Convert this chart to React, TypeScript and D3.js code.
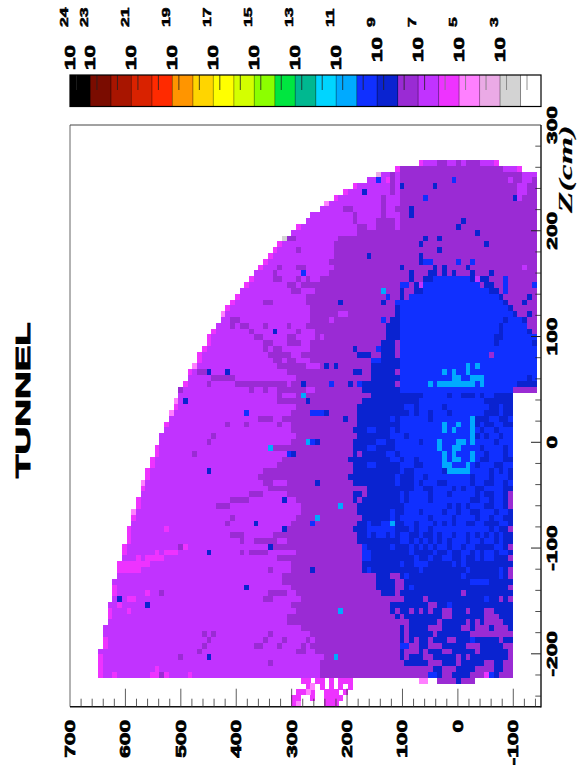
import React, { useEffect, useRef } from "react";
import * as d3 from "d3";

// ---- colour scale (legend, from 10^24 down) ----
const bandColors = ["#000000","#7a0c00","#a81500","#d92200","#ff2a00","#ff9500","#ffd500","#ffff00","#d4ff00","#8cff00","#00e640","#00b890","#00d5ff","#00aaff","#1030ff","#0a23d0","#9a2bd4","#c133ff","#ee33ff","#ff80ff","#ebaae6","#d3d3d3","#ffffff"];
const levelChars: Record<string, number> = { A: 13, B: 14, K: 15, D: 16, L: 17, M: 18, P: 19, R: 20, G: 21 };
const legendExponents = [[0,"24"],[1,"23"],[3,"21"],[5,"19"],[7,"17"],[9,"15"],[11,"13"],[13,"11"],[15,"9"],[17,"7"],[19,"5"],[21,"3"]] as [number,string][];

// ---- axes ----
const rTicks = [700,600,500,400,300,200,100,0,-100];
const zTicks = [300,200,100,0,-100,-200];
const binR = 8.5, binZ = 5.5, firstRow = 6;

// ---- map, one value per Z row 6..94, in R bins ----
const outerLeft = [74,69,65,63,60,58,56,54,53,51,50,48,47,45,44,43,42,41,40,39,38,37,36,35,34,33,32,32,31,30,29,29,28,27,27,26,25,25,24,23,23,22,22,21,21,20,20,19,19,18,18,17,17,16,16,15,15,15,14,14,13,13,13,12,12,12,11,11,11,10,10,10,9,9,9,9,8,8,8,8,7,7,7,7,6,6,6,6,6];
const rightEnd = [90,95,98,98,98,98,98,98,98,98,98,98,98,98,98,98,98,98,98,98,98,98,98,98,98,98,98,98,98,98,98,98,98,98,98,98,98,98,98,98,93,93,93,93,93,93,93,93,93,93,93,93,93,93,93,93,93,93,93,93,93,93,93,93,93,93,93,93,93,93,93,93,93,93,93,93,93,93,93,93,93,93,93,93,93,93,93,93,93];
const edgeLevel = "MMRLMMMPLLLMLGMMMMMLMMLMMMPLLMMMMMMPMLMDLPMPLMLLLMMMMMMPMLMMPMLMMMMMLPMLLMMLLMMLLLMMLMMMM".split("");
const darkStart = [70,70,70,70,70,70,70,70,70,70,65,65,61,57,56,56,56,55,56,55,53,52,52,50,50,51,51,51,50,50,50,49,49,49,49,49,48,48,47,47,48,48,48,47,47,47,47,48,47,43,46,45,44,41,40,46,42,46,48,49,49,48,47,46,43,46,43,48,44,47,47,45,45,47,48,49,47,48,46,46,49,51,52,51,53,54,53,53,53];
const navyStart = [999,999,999,999,999,999,999,999,999,999,999,999,999,999,999,999,999,999,999,999,999,999,999,999,999,69,69,68,67,67,67,66,66,66,64,64,64,63,62,62,64,62,61,61,61,61,60,61,60,60,60,59,60,60,59,60,62,60,60,61,61,62,61,60,61,61,62,62,62,62,62,65,65,65,66,68,68,68,69,69,70,70,70,70,70,70,71,76,76];

// dome of blue, rows 26..45
const domeRows = [26,27,28,29,30,31,32,33,34,35,36,37,38,39,40,41,42,43,44,45];
const domeStart = [77,75,75,72,71,70,70,70,70,70,70,70,70,70,70,70,70,70,70,70];
const domeEnd = [84,86,88,90,91,92,93,95,96,97,98,98,98,98,98,98,98,98,94,93];

// lower block, rows 46..94, R bins 60..93
const blockCells = [
"...............BBBBB.BB...B.BB.....",
"..............BBBBBBBBBBBBBB......",
"...........BB.BBBBB.BBBBBBBBB..B..",
"............B.BB.BBB.BBBBBBB...B..",
"........B.BBBBBB.BBBBBBBBB...BB..B",
"..........BBBBBBBBBBBBBBBB.B..BB..",
"...BB...B.BBBBBBBBBBBBBBBBB.BB.BBB",
"........BBB.BBBBBBBBBBBBBB.B.BB.BB",
".....BB..BBBBB.BBBBBBBBBBBBBBB.BBB",
"...BB....BBBBBBBBBBBBBBBBBB.BBBB.B",
".D.....BB.BBBBBBBBBBBBBBBBBB.BBB.B",
"........BB.BB.BBBBBBBBBBBBB..BBB..",
"...BB.....BBB..BBBBBBBBBBB.BBB..BB",
"..........B..BBBBBB.BBBBBBBBB.B.B.",
".........B...BB.BBBBBBBBB.BBB.BBB.",
".........B...B.BBB..BBBBB.BB..BB.B",
"..D..........BB..BBBB.B.BB..BBBB..",
"..D.......B.BBBB.BBB.BBBBB.B..BB.D",
".D........B.BBBB.BBBBBBBB..BB.BB.D",
"...........BBBBBBBBB.B.B.BBB..BB.D",
"........B..BBB.BBBB.BB.BB..BBB.BB.",
"........B.BBBBBB.BBBB.BBBB.BB.BB..",
"...B..BB...BB.BBB.B.B.BB..BB...BB.",
"...BBBBBB...B.BB.BBBBBBBBBBBB.B..D",
"...B.BB.B.BB..B..B.BB.BB.B.B.B.B..",
"..........BB.B.B.B.B.BBB.BB.BB.B..",
"..B.....B...B.B.B.BB.BB.BB....BB.D",
"..BB........B....B..B..BB.B.BB.BB.",
"..BB.........B..B..BB..B..B.BB...D",
"..........B..BBB.....B.B..........",
"...B..........B.........B......B.D",
"........DD.B...........B.......B.D",
".........DD..............BBBB.....",
".........DD.B....................D",
".........D.............D.........",
"........DDD....D............B..D.D",
"................DD..B.............D",
".........D..D.D.D..DD...D...DD....",
"..........D........DD.......DDD...",
".........DDD......D.....D.D.DDDD..",
"...........D....DDD....DD.DDD.DDD.D",
"...........D.....D.......DDDDDDDDD",
"...........D.D..D...DD...B.....D..",
"..........BBDD..DDD.....DDD.....DDD",
"...........DDD.D...DD.....D......DD",
"...........D...DD.....D.D........D.",
"...DDDDDDDD.....DDD...D.....DD..DDD",
"...........DDDDDD..DDD....DDDD..DD..",
"..........DDDDDDBB.DD.KK.DDD.B.DDDD",
].map(s => s.slice(0, 34));

// single cells: [row, first bin, last bin]
const purpleCells = [[6,78,79],[6,82,82],[6,84,86],[8,68,68],[9,68,68],[10,68,68],[11,68,68],[12,66,66],[13,66,66],[14,66,66],[15,66,66],[14,69,69],[14,58,59],[15,60,60],[16,60,60],[17,61,62],[18,61,62],[19,46,47],[21,48,48],[24,44,44],[24,48,49],[24,49,49],[25,43,43],[26,43,44],[26,48,48],[26,50,50],[27,46,47],[27,49,51],[28,47,48],[29,50,51],[30,41,42],[33,34,35],[34,34,34],[34,36,37],[34,41,41],[34,46,46],[35,38,38],[35,48,48],[36,39,40],[36,46,47],[37,41,42],[37,46,48],[38,41,41],[38,43,44],[39,42,46],[40,43,44],[40,46,47],[41,44,48],[42,27,28],[42,46,47],[43,30,34],[44,29,29],[44,35,45],[45,23,23],[45,38,38],[45,41,41],[45,44,46],[46,44,44],[47,44,47],[50,40,42],[50,45,46],[51,33,33],[51,37,37],[51,44,44],[53,30,30],[54,29,29],[56,26,26],[61,41,42],[63,38,40],[64,34,37],[65,31,33],[67,34,34],[68,33,33],[70,34,36],[71,36,36],[71,39,43],[72,23,23],[73,36,36],[73,38,41],[76,42,42],[80,19,19],[80,42,45],[81,41,42],[87,28,28],[87,30,30],[87,42,42],[88,29,29],[88,41,41],[88,45,45],[88,50,50],[89,28,28],[89,39,40],[89,44,44],[89,49,49],[90,27,27],[90,48,49],[90,52,52],[91,23,23],[92,42,42],[45,94,98],[94,19,19],[37,69,69],[38,69,69],[39,69,69],[39,89,89],[42,69,69],[43,63,63],[44,69,69],[46,63,63]];
const navyCells = [[11,62,62],[10,70,70],[10,77,77],[12,94,94],[14,72,72],[15,72,72],[16,83,83],[17,82,82],[18,86,86],[19,75,75],[19,78,78],[20,74,74],[20,88,88],[21,78,78],[22,63,63],[22,74,74],[23,74,74],[24,70,70],[24,77,77],[24,79,79],[24,84,84],[25,72,72],[25,76,77],[25,79,79],[25,81,81],[25,85,85],[25,89,89],[26,72,72],[26,75,76],[26,85,85],[26,87,88],[27,73,73],[27,88,89],[28,70,70],[28,73,74],[28,89,90],[29,70,70],[29,91,91],[29,97,97],[30,57,57],[30,66,66],[30,92,92],[30,96,96],[31,93,93],[32,94,94],[32,97,97],[33,92,92],[33,96,96],[34,91,91],[35,91,91],[35,97,97],[36,90,91],[37,90,90],[37,98,98],[38,60,60],[39,61,63],[41,54,54],[41,56,56],[42,60,61],[43,97,97],[44,49,49],[44,59,59],[44,95,98],[47,50,50],[47,24,24],[42,29,29],[42,33,33],[44,49,49],[35,43,43],[49,54,54],[50,58,58],[54,52,52],[56,47,47],[59,29,29],[61,52,52],[64,45,45],[68,39,39],[69,45,45],[72,42,42],[73,29,29],[76,51,51],[79,37,37],[81,10,10],[82,16,16],[91,29,29]];
const blueCells = [[9,65,65],[9,81,81],[12,75,75],[23,75,76],[23,82,82],[23,85,85],[25,49,49],[25,49,49],[26,92,92],[27,70,71],[27,92,92],[27,98,98],[28,92,92],[29,67,67],[30,69,70],[33,66,66],[38,65,65],[40,64,65],[44,55,55],[44,61,61],[49,37,37],[49,51,52],[49,52,53],[54,51,51],[56,46,46],[68,51,51]];
const azureCells = [[28,66,66],[41,84,84],[41,86,86],[42,79,79],[42,81,81],[42,84,84],[43,81,82],[43,85,86],[43,87,87],[44,76,76],[44,78,85],[44,87,87],[46,49,49],[50,85,85],[51,79,79],[51,82,82],[51,85,85],[52,79,79],[52,81,81],[52,85,85],[53,85,85],[54,78,78],[54,82,83],[54,85,85],[55,78,78],[55,81,82],[56,79,79],[56,81,81],[56,85,85],[57,79,79],[57,81,82],[57,85,85],[58,79,80],[58,84,84],[59,80,84],[54,50,50],[55,42,42],[67,52,52],[83,57,57],[91,56,56],[65,57,57],[68,68,68]];
const lightCells = [[6,75,77],[6,80,81],[6,83,83],[6,87,89],[7,92,94],[8,96,98],[8,66,66],[8,69,69],[9,93,93],[9,96,97],[10,95,96],[11,95,96],[12,95,95],[24,96,96],[27,74,74],[26,86,86],[16,69,69],[17,69,69],[32,57,58],[33,55,55],[35,50,51],[36,50,51],[36,53,53],[37,49,50],[38,49,50],[40,49,50],[41,50,52],[45,50,51]];
const magentaCells = [[6,90,90],[7,95,95],[9,67,67],[69,20,20],[72,24,24],[73,18,18],[73,20,22],[74,14,14],[74,16,19],[75,10,16],[76,10,14],[80,16,16],[81,12,13],[82,10,10],[83,12,12],[93,18,18],[94,9,9],[94,17,18],[94,20,20],[94,25,25],[94,88,88]];
const tunnelMagenta = [[95,49,50],[95,52,53],[95,55,55],[95,57,59],[96,50,50],[96,53,53],[96,55,55],[96,57,57],[96,59,59],[97,48,49],[97,51,51],[97,54,56],[97,58,58],[98,47,48],[98,51,51],[98,54,57],[99,47,47],[99,54,56]];
const tunnelPink = [[95,74,75],[96,51,51],[97,50,50],[99,48,48]];
const tunnelPurple = [[95,78,81],[95,83,85]];
const tunnelNavy = [[95,82,82]];

const W = 578, H = 771;
const x = d3.scaleLinear().domain([700, -150]).range([70, 541]);
const y = d3.scaleLinear().domain([300, -250]).range([125, 706.7]);
const legendX = d3.scaleLinear().domain([0, 23]).range([70, 541]);

export default function App() {
  const ref = useRef<SVGSVGElement>(null);
  useEffect(() => {
    const svg = d3.select(ref.current!);
    svg.selectAll("*").remove();

    // ---- grid ----
    const grid = new Map<string, string>();
    const set = (k: number, c: number, v: string) => grid.set(k + ":" + c, v);
    outerLeft.forEach((left, i) => {
      const k = i + firstRow;
      for (let c = left; c <= rightEnd[i]; c++) {
        let v = "L";
        if (c >= darkStart[i]) v = "D";
        if (c >= navyStart[i]) v = "K";
        set(k, c, v);
      }
      set(k, left, edgeLevel[i] || "L");
    });
    domeRows.forEach((k, i) => {
      for (let c = domeStart[i]; c <= domeEnd[i]; c++) set(k, c, "B");
      for (let c = domeEnd[i] + 1; c <= 98; c++) if (k < 46 && grid.has(k + ":" + c)) set(k, c, "D");
    });
    blockCells.forEach((s, i) => s.split("").forEach((ch, j) => { if (ch !== "." && j + 60 <= 93) set(46 + i, 60 + j, ch); }));
    const paint = (list: number[][], v: string) => list.forEach(([k, a, b]) => { for (let c = a; c <= b; c++) set(k, c, v); });
    paint(purpleCells, "D"); paint(navyCells, "K"); paint(blueCells, "B"); paint(lightCells, "L");
    paint(magentaCells, "M"); paint(azureCells, "A");
    paint(tunnelMagenta, "M"); paint(tunnelPink, "P"); paint(tunnelPurple, "D"); paint(tunnelNavy, "K");
    const cells = Array.from(grid.entries()).map(([key, v]) => {
      const [k, c] = key.split(":").map(Number);
      return { k, c, v };
    });
    const plot = svg.append("g").attr("shape-rendering", "crispEdges");
    plot.selectAll("rect").data(cells).join("rect")
      .attr("x", d => x(700 - d.c * binR))
      .attr("y", d => y(300 - d.k * binZ))
      .attr("width", d => x(700 - (d.c + 1) * binR) - x(700 - d.c * binR) + 0.3)
      .attr("height", d => y(300 - (d.k + 1) * binZ) - y(300 - d.k * binZ) + 0.3)
      .attr("fill", d => bandColors[levelChars[d.v]]);

    // ---- frame ----
    const axes = svg.append("g");
    axes.append("line").attr("x1", 70).attr("x2", 70).attr("y1", 125).attr("y2", 706.7).attr("stroke", "#666").attr("stroke-width", 1);
    axes.append("line").attr("x1", 70).attr("x2", 541).attr("y1", 125).attr("y2", 125).attr("stroke", "#444").attr("stroke-width", 1);
    axes.append("line").attr("x1", 541).attr("x2", 541).attr("y1", 125).attr("y2", 707.5).attr("stroke", "#111").attr("stroke-width", 1.4);
    axes.append("line").attr("x1", 70).attr("x2", 541).attr("y1", 706.7).attr("y2", 706.7).attr("stroke", "#111").attr("stroke-width", 1.4);

    // ---- ticks ----
    d3.range(-140, 700, 20).forEach(v => {
      const major = v % 100 === 0;
      axes.append("line").attr("x1", x(v)).attr("x2", x(v)).attr("y1", 706.7).attr("y2", 706.7 - (major ? 18 : 8)).attr("stroke", "#333").attr("stroke-width", 0.8);
    });
    d3.range(-240, 300, 20).forEach(v => {
      const major = v % 100 === 0;
      axes.append("line").attr("x1", 541).attr("x2", 541 - (major ? 10 : 5.7)).attr("y1", y(v)).attr("y2", y(v)).attr("stroke", "#222").attr("stroke-width", major ? 1 : 0.8);
    });

    const label = (px: number, py: number, s: string, size: number, sx: number, anchor: string, extra?: (t: any) => void) => {
      const t = svg.append("text")
        .attr("transform", `translate(${px},${py}) rotate(-90) scale(${sx},1)`)
        .attr("font-family", "'Liberation Sans', sans-serif")
        .attr("font-weight", 700)
        .attr("font-size", size)
        .attr("text-anchor", anchor)
        .attr("stroke", "#000").attr("stroke-width", 0.7)
        .attr("fill", "#000").text(s);
      if (extra) extra(t);
    };
    rTicks.forEach(v => label(x(v) + 5, 720, String(v), 14, 1.62, "end"));
    zTicks.forEach(v => label(557, y(v), String(v), 14, 1.62, "middle"));
    label(30, 478, "TUNNEL", 21, 1.83, "start", t => t.attr("stroke-width", 0.9));
    label(572, 213, "Z(cm)", 18, 1.95, "start", t => t.attr("font-family", "'Liberation Serif', serif").attr("font-style", "italic").attr("stroke-width", 0.15));

    // ---- colour bar ----
    const legend = svg.append("g");
    legend.selectAll("rect").data(bandColors).join("rect")
      .attr("shape-rendering", "crispEdges")
      .attr("x", (_, i) => legendX(i)).attr("y", 75)
      .attr("width", (_, i) => legendX(i + 1) - legendX(i) + 0.2).attr("height", 31.5)
      .attr("fill", d => d);
    bandColors.forEach((_, i) => {
      if (i > 0) legend.append("line").attr("x1", legendX(i)).attr("x2", legendX(i)).attr("y1", 75).attr("y2", 106.5).attr("stroke", "#000").attr("stroke-opacity", 0.55).attr("stroke-width", 0.7);
      legend.append("line").attr("x1", legendX(i + 1) - 14).attr("x2", legendX(i + 1) - 14).attr("y1", 75).attr("y2", 90).attr("stroke", i > 17 ? "#777" : "#222").attr("stroke-width", 0.8);
    });
    legend.append("rect").attr("x", 70).attr("y", 75).attr("width", 471).attr("height", 31.5).attr("fill", "none").attr("stroke", "#000").attr("stroke-width", 1.2);
    legendExponents.forEach(([i, e]) => {
      const px = legendX(i);
      const two = e.length === 2;
      label(px + 5, two ? 70 : 62, "10", 14, 1.6, "start");
      label(px - 2, 27, e, 10, 1.75, "start", t => t.attr("stroke-width", 0.5));
    });
  }, []);
  return <svg ref={ref} width={W} height={H} viewBox={`0 0 ${W} ${H}`} style={{ position: "absolute", left: 0, top: 0, background: "#fff" }} />;
}
